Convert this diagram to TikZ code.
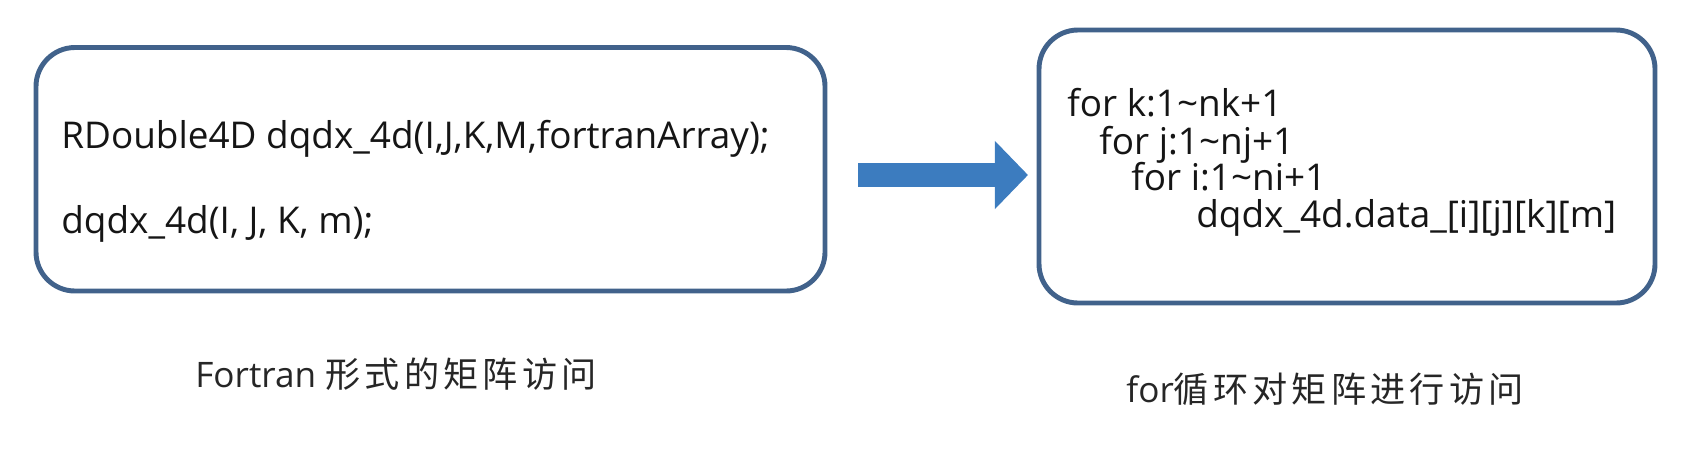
\documentclass[tikz,border=0pt]{standalone}
\usepackage{fontspec}
\setmainfont{Open Sans}
\newfontfamily\cjk[LetterSpace=12]{Noto Sans CJK SC}
\usepackage{xcolor}
\usetikzlibrary{arrows.meta,positioning,fit}
\definecolor{boxblue}{HTML}{41628B}
\definecolor{arrowblue}{HTML}{3C7CBF}
\definecolor{textdark}{HTML}{151515}

\begin{document}
\begin{tikzpicture}[x=0.02cm, y=-0.02cm,
  codebox/.style={draw=boxblue, line width=2.8pt, rounded corners=0.78cm, inner sep=0pt},
  code/.style={anchor=base west, inner sep=0pt, text=textdark, font=\fontsize{21}{25}\selectfont},
  capt/.style={anchor=base west, inner sep=0pt, text=black!85, font=\fontsize{20}{24}\selectfont},
  blockarrow/.style={-{Triangle[length=18.8pt, width=37.6pt]}, line width=13.7pt, arrowblue}
]
  \useasboundingbox (0,0) rectangle (1702,457);

  \node[codebox, fit={(36,47.5) (825,291)}]  (lbox) {};
  \node[codebox, fit={(1039,30) (1655,303)}] (rbox) {};

  \node[code] (decl) at (61,148) {RDouble4D dqdx\_4d(I,J,K,M,fortranArray);};
  \node[code] (call) at (61,233) {dqdx\_4d(I, J, K, m);};

  \node[code] (loopk) at (1067,116) {for k:1\textasciitilde{}nk+1};
  \node[code] (loopj) at (1099,154) {for j:1\textasciitilde{}nj+1};
  \node[code] (loopi) at (1131,190) {for i:1\textasciitilde{}ni+1};
  \node[code] (body)  at (1196,227) {dqdx\_4d.data\_[i][j][k][m]};

  \node[capt] (lcapt) at (195,387)  {Fortran {\cjk 形式的矩阵访问}};
  \node[capt] (rcapt) at (1126,402) {for{\cjk 循环对矩阵进行访问}};

  \coordinate (atail) at (858,175);
  \coordinate (ahead) at (1028,175);
  \draw[blockarrow] (atail) -- (ahead);
\end{tikzpicture}
\end{document}
